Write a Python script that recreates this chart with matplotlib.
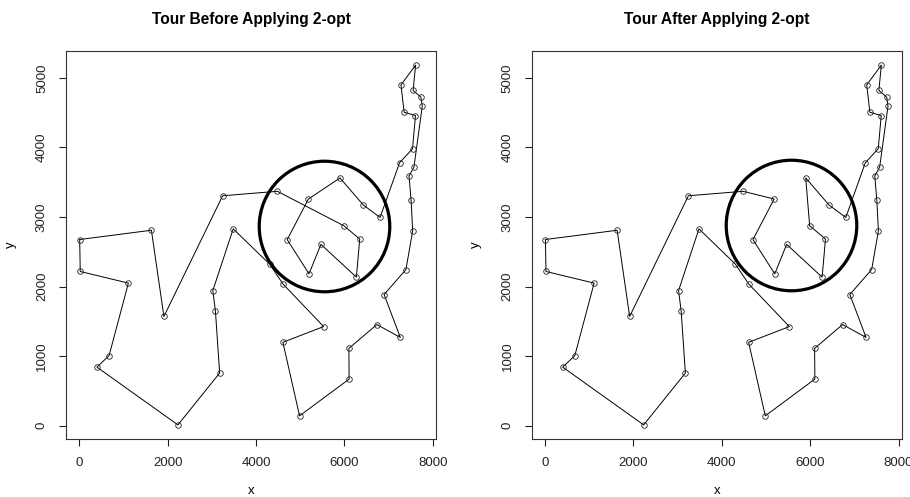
import numpy as np
import matplotlib
matplotlib.use('Agg')
import matplotlib.pyplot as plt

plt.rcParams['font.family'] = ['Liberation Sans', 'DejaVu Sans']

# city coordinates (att48), index 1..48
city_x = [6734, 2233, 5530, 401, 3082, 7608, 7573, 7265, 6898, 1112,
          5468, 5989, 4706, 4612, 6347, 6107, 7611, 7462, 7732, 5900,
          4483, 6101, 5199, 1633, 4307, 675, 7555, 7541, 3177, 7352,
          7545, 3245, 6426, 4608, 23, 7248, 7762, 7392, 3484, 6271,
          4985, 1916, 7280, 7509, 10, 6807, 5185, 3023]
city_y = [1453, 10, 1424, 841, 1644, 4458, 3716, 1268, 1885, 2049,
          2606, 2873, 2674, 2035, 2683, 669, 5184, 3590, 4723, 3561,
          3369, 1110, 2182, 2809, 2322, 1006, 4819, 3981, 756, 4506,
          2801, 3305, 3173, 1198, 2216, 3779, 4595, 2244, 2829, 2135,
          140, 1569, 4899, 3239, 2676, 2993, 3258, 1942]

# visiting order (1-based city ids)
tour_before = [45, 24, 42, 32, 21, 12, 15, 40, 11, 23, 13, 47, 20, 33, 46, 36,
               28, 6, 30, 43, 17, 27, 19, 37, 7, 18, 44, 31, 38, 9, 8, 1,
               22, 16, 41, 34, 3, 14, 25, 39, 48, 5, 29, 2, 4, 26, 10, 35]
tour_after = [45, 24, 42, 32, 21, 47, 13, 23, 11, 40, 15, 12, 20, 33, 46, 36,
              28, 6, 30, 43, 17, 27, 19, 37, 7, 18, 44, 31, 38, 9, 8, 1,
              22, 16, 41, 34, 3, 14, 25, 39, 48, 5, 29, 2, 4, 26, 10, 35]

titles = ['Tour Before Applying 2-opt', 'Tour After Applying 2-opt']
# highlighted region (centre in data units)
circle_centres = [(5530, 2866), (5566, 2884)]

cx = np.array(city_x)
cy = np.array(city_y)

fig = plt.figure(figsize=(9.1, 4.97), dpi=100)
ax1 = fig.add_axes([0.0725, 0.1161, 0.4066, 0.7819])
ax2 = fig.add_axes([0.5843, 0.1161, 0.4066, 0.7819])

xr = cx.max() - cx.min()
yr = cy.max() - cy.min()

for ax, tour, title, cc in zip([ax1, ax2], [tour_before, tour_after],
                               titles, circle_centres):
    idx = np.array(tour + tour[:1]) - 1
    ax.plot(cx[idx], cy[idx], color='black', lw=0.7)
    ax.plot(cx, cy, 'o', mfc='none', mec='#222222', ms=4, mew=0.6)
    ax.plot([cc[0]], [cc[1]], 'o', mfc='none', mec='black', ms=94, mew=2.3)

    ax.set_xlim(cx.min() - 0.04 * xr, cx.max() + 0.04 * xr)
    ax.set_ylim(cy.min() - 0.04 * yr, cy.max() + 0.04 * yr)
    ax.set_xticks([0, 2000, 4000, 6000, 8000])
    ax.set_yticks([0, 1000, 2000, 3000, 4000, 5000])
    ax.tick_params(direction='out', length=5, width=0.8, pad=8,
                   labelsize=9.5, colors='#222222')
    for lab in ax.get_yticklabels():
        lab.set_rotation(90)
        lab.set_va('center')
    for s in ax.spines.values():
        s.set_linewidth(0.8)
        s.set_color('#333333')

    ax.set_title(title, fontsize=11.2, fontweight='bold', pad=19)
    ax.set_xlabel('x', fontsize=9.5, labelpad=11)
    ax.set_ylabel('y', fontsize=9.5, labelpad=14)

plt.savefig('out.png', dpi=100)
